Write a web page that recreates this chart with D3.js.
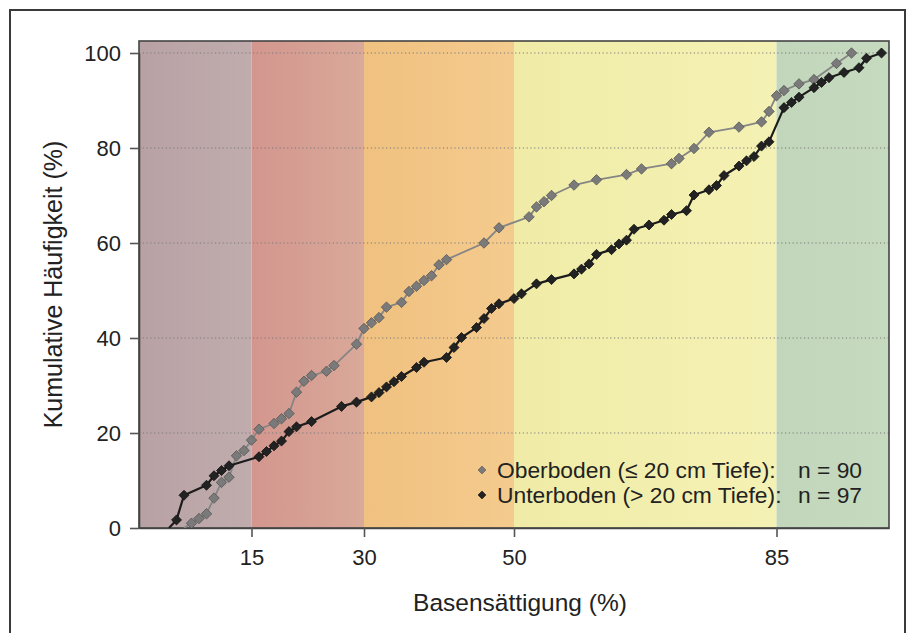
<!DOCTYPE html>
<html>
<head>
<meta charset="utf-8">
<script src="https://cdn.jsdelivr.net/npm/d3@7"></script>
<style>
  html, body { margin: 0; padding: 0; background: #fff; }
  svg { display: block; font-family: "Liberation Sans", Arial, sans-serif; }
</style>
</head>
<body>
<svg id="chart" width="908" height="633"></svg>
<script>
// Base saturation classes (x range of each coloured band)
const bandEdges = [0, 15, 30, 50, 85, 100];
const bandColorsLeft  = ["#b8a1a4", "#d3968e", "#f0c180", "#f0eca7", "#c1d6ba"];
const bandColorsRight = ["#c0acad", "#d9a999", "#f4cb8e", "#f4f1b4", "#c6dabf"];

// Topsoil (<= 20 cm depth), cumulative frequency
const oberX = [6,7,8,9,10,11,12,13,14,15,16,18,19,20,21,22,23,25,26,29,30,31,32,33,35,36,37,38,39,40,41,46,48,52,53,54,55,58,61,65,67,71,72,74,76,80,83,84,85,86,88,90,93,95];
const oberY = [0,1.0,2.0,3.0,6.3,9.6,10.7,15.2,16.3,18.5,20.8,22.0,23.0,24.1,28.6,30.9,32.1,33.0,34.2,38.7,42.0,43.2,44.3,46.5,47.5,49.8,50.9,52.1,53.1,55.4,56.5,60.0,63.2,65.5,67.6,68.7,70.0,72.2,73.3,74.4,75.6,76.7,77.8,79.9,83.3,84.4,85.5,87.7,91.0,92.1,93.5,94.4,97.8,100];

// Subsoil (> 20 cm depth), cumulative frequency
const unterX = [4,5,6,9,10,11,12,16,17,18,19,20,21,23,27,29,31,32,33,34,35,37,38,41,42,43,45,46,47,48,50,51,53,55,58,59,60,61,63,64,65,66,68,70,71,73,74,76,77,78,80,81,82,83,84,86,87,88,90,91,92,94,96,97,99];
const unterY = [0,1.7,6.9,9.0,11.0,12.1,13.1,15.0,16.1,17.3,18.3,20.3,21.3,22.4,25.6,26.5,27.6,28.5,29.7,30.8,31.9,33.8,34.9,35.9,38.0,40.1,42.2,44.1,46.2,47.2,48.3,49.3,51.4,52.3,53.5,54.5,55.6,57.6,58.6,59.8,60.6,62.9,63.8,64.8,66.0,66.8,70.1,71.2,72.1,74.2,76.2,77.3,78.2,80.4,81.3,88.5,89.6,90.7,92.7,93.8,94.8,95.9,96.9,98.9,100];

const xTicks = [15, 30, 50, 85];
const yTicks = [0, 20, 40, 60, 80, 100];
const legendLabels = ["Oberboden (\u2264 20 cm Tiefe):", "Unterboden (> 20 cm Tiefe):"];
const legendCounts = ["n = 90", "n = 97"];
const xTitle = "Basens\u00e4ttigung (%)";
const yTitle = "Kumulative H\u00e4ufigkeit (%)";

const svg = d3.select("#chart");
const plotLeft = 139, plotRight = 889, plotBottom = 528, plotTop = 41;

const x = d3.scaleLinear().domain([0, 100]).range([plotLeft, plotRight]);
const y = d3.scaleLinear().domain([0, 100]).range([plotBottom, 53]);

// outer figure frame
svg.append("rect")
  .attr("x", 10).attr("y", 10).attr("width", 895).attr("height", 660)
  .attr("fill", "none").attr("stroke", "#3a3a3a").attr("stroke-width", 2);

const defs = svg.append("defs");
defs.append("clipPath").attr("id", "plotClip")
  .append("rect").attr("x", plotLeft).attr("y", plotTop)
  .attr("width", plotRight - plotLeft).attr("height", plotBottom - plotTop);

// coloured class bands with a slight left-to-right shading
bandColorsLeft.forEach((c, i) => {
  const g = defs.append("linearGradient").attr("id", "band" + i)
    .attr("x1", "0%").attr("x2", "100%").attr("y1", "0%").attr("y2", "0%");
  g.append("stop").attr("offset", "0%").attr("stop-color", c);
  g.append("stop").attr("offset", "100%").attr("stop-color", bandColorsRight[i]);
});

svg.append("g").selectAll("rect")
  .data(d3.pairs(bandEdges))
  .join("rect")
  .attr("x", d => x(d[0]))
  .attr("y", plotTop)
  .attr("width", d => x(d[1]) - x(d[0]))
  .attr("height", plotBottom - plotTop)
  .attr("fill", (d, i) => `url(#band${i})`);

// dotted horizontal grid
svg.append("g").selectAll("line")
  .data(yTicks.filter(v => v > 0))
  .join("line")
  .attr("x1", plotLeft).attr("x2", plotRight)
  .attr("y1", d => y(d)).attr("y2", d => y(d))
  .attr("stroke", "#7a7a7a").attr("stroke-width", 1)
  .attr("stroke-dasharray", "1.2,2.6");

// plot frame
svg.append("rect")
  .attr("x", plotLeft).attr("y", plotTop)
  .attr("width", plotRight - plotLeft).attr("height", plotBottom - plotTop)
  .attr("fill", "none").attr("stroke", "#444").attr("stroke-width", 1.6);

// axes
const xAxis = svg.append("g")
  .attr("transform", `translate(0,${plotBottom})`)
  .call(d3.axisBottom(x).tickValues(xTicks).tickSize(9).tickSizeOuter(0).tickPadding(12).tickFormat(d3.format("d")));
const yAxis = svg.append("g")
  .attr("transform", `translate(${plotLeft},0)`)
  .call(d3.axisLeft(y).tickValues(yTicks).tickSize(9).tickSizeOuter(0).tickPadding(9).tickFormat(d3.format("d")));
[xAxis, yAxis].forEach(a => {
  a.select(".domain").attr("stroke", "#444").attr("stroke-width", 1.6);
  a.selectAll(".tick line").attr("stroke", "#555").attr("stroke-width", 1.6);
  a.selectAll(".tick text")
    .attr("fill", "#222")
    .style("font-size", "22px")
    .style("font-family", "'Liberation Sans', Arial, sans-serif");
});
yAxis.selectAll(".tick text").attr("dy", "0.36em");

// axis titles
svg.append("text")
  .attr("x", (plotLeft + plotRight) / 2 + 6).attr("y", 611)
  .attr("text-anchor", "middle")
  .attr("fill", "#222").style("font-size", "24.5px")
  .text(xTitle);
svg.append("text")
  .attr("transform", `translate(62,${(plotTop + plotBottom) / 2}) rotate(-90)`)
  .attr("text-anchor", "middle")
  .attr("fill", "#222").style("font-size", "25px")
  .text(yTitle);

// series
const diamond = d3.symbol().type(d3.symbolDiamond2);
const series = [
  { xs: oberX, ys: oberY, line: "#858585", lw: 1.8, fill: "#7a7a7a", stroke: "#555", size: 70 },
  { xs: unterX, ys: unterY, line: "#1c1c1c", lw: 2.2, fill: "#222", stroke: "#111", size: 64 }
];
const plot = svg.append("g").attr("clip-path", "url(#plotClip)");
const lineGen = d3.line().x(d => x(d[0])).y(d => y(d[1]));

series.forEach(s => {
  const pts = s.xs.map((v, i) => [v, s.ys[i]]);
  plot.append("path")
    .datum(pts)
    .attr("d", lineGen)
    .attr("fill", "none")
    .attr("stroke", s.line)
    .attr("stroke-width", s.lw)
    .attr("stroke-linejoin", "round");
  plot.append("g").selectAll("path")
    .data(pts.filter(p => p[1] > 0))
    .join("path")
    .attr("d", diamond.size(s.size))
    .attr("transform", d => `translate(${x(d[0])},${y(d[1])})`)
    .attr("fill", s.fill)
    .attr("stroke", s.stroke)
    .attr("stroke-width", 0.8);
});

// legend
const legend = svg.append("g");
series.forEach((s, i) => {
  const ly = 470 + i * 25;
  legend.append("path")
    .attr("d", diamond.size(40))
    .attr("transform", `translate(482,${ly})`)
    .attr("fill", s.fill).attr("stroke", s.stroke).attr("stroke-width", 0.6);
  legend.append("text")
    .attr("x", 497).attr("y", ly + 8)
    .attr("fill", "#222").style("font-size", "22.8px")
    .text(legendLabels[i]);
  legend.append("text")
    .attr("x", 798).attr("y", ly + 8)
    .attr("fill", "#222").style("font-size", "22.8px")
    .text(legendCounts[i]);
});
</script>
</body>
</html>
